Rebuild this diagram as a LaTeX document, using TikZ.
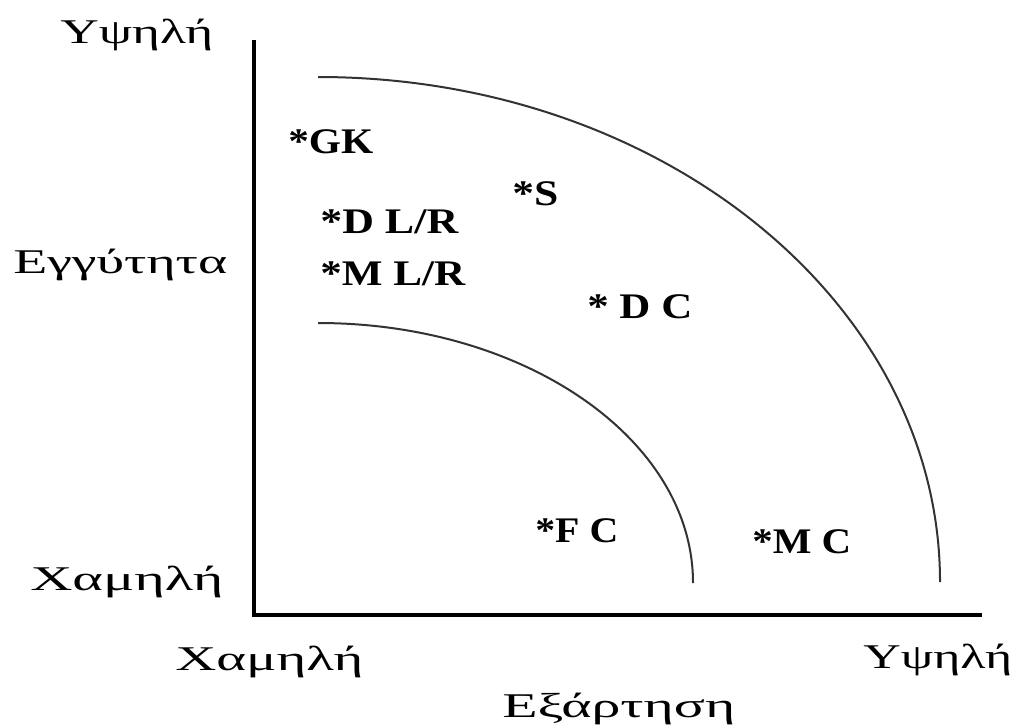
\documentclass[tikz,border=0pt]{standalone}
\usepackage{fontspec}
\setmainfont{Liberation Serif}
\usepackage{graphicx}
\newdimen\pxu \pxu=0.75pt
\newcommand{\fitw}[2]{\resizebox{#1\pxu}{\height}{#2}}
\tikzset{
  axisline/.style={line width=2.4pt, black, line join=miter},
  curveline/.style={line width=1.5pt, black!80},
  greek/.style={font=\fontsize{26}{30}\selectfont, inner sep=0pt, anchor=base west},
  lbl/.style={font=\fontsize{27}{32}\selectfont\bfseries, inner sep=0pt, anchor=base west}
}
\begin{document}
\begin{tikzpicture}[x=0.75pt, y=-0.75pt]
\useasboundingbox (0,0) rectangle (1016,725);
\fill[white] (0,0) rectangle (1016,725);
% axes
\coordinate (top) at (254,40);
\coordinate (origin) at (254,615);
\coordinate (right) at (982,615);
\draw[axisline] (top) -- (origin) -- (right);
% curves
\coordinate (bigstart) at (318,77);
\coordinate (smallstart) at (318,323);
\draw[curveline] (bigstart) arc[start angle=-90, end angle=0, x radius=622, y radius=505];
\draw[curveline] (smallstart) arc[start angle=-90, end angle=0, x radius=375, y radius=260];
% axis labels
\node[greek] (yhigh) at (60,43) {\fitw{153}{Υψηλή}};
\node[greek] (ylabel) at (13,273) {\fitw{214}{Εγγύτητα}};
\node[greek] (ylow) at (30,590) {\fitw{193}{Χαμηλή}};
\node[greek] (xlow) at (175,670) {\fitw{188}{Χαμηλή}};
\node[greek] (xhigh) at (863,668) {\fitw{149}{Υψηλή}};
\node[greek] (xlabel) at (502,717) {\fitw{233}{Εξάρτηση}};
% points
\node[lbl] (gk) at (288,153) {\fitw{85}{*GK}};
\node[lbl] (s) at (512,205) {\fitw{46}{*S}};
\node[lbl] (dlr) at (320,233) {\fitw{138}{*D L/R}};
\node[lbl] (mlr) at (320,285) {\fitw{145}{*M L/R}};
\node[lbl] (dc) at (587,318) {\fitw{105}{* D C}};
\node[lbl] (fc) at (535,542) {\fitw{83}{*F C}};
\node[lbl] (mc) at (752,553) {\fitw{99}{*M C}};
\end{tikzpicture}
\end{document}
